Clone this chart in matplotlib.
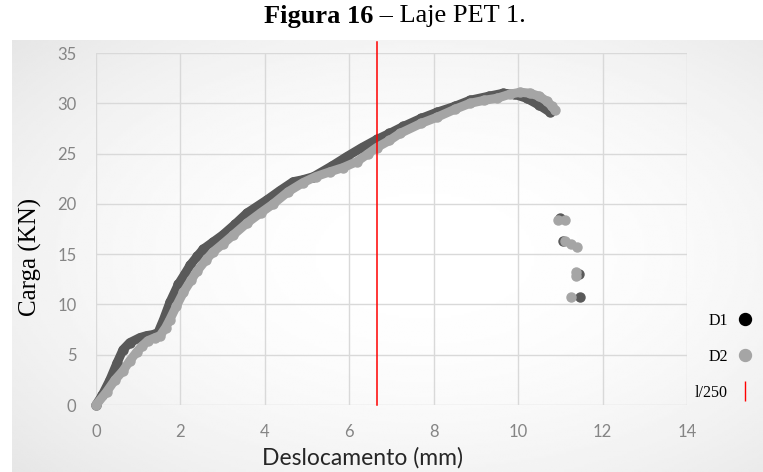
import numpy as np
import matplotlib
matplotlib.use("Agg")
import matplotlib.pyplot as plt
from matplotlib.lines import Line2D

# ---- data ----
d1_x = [0.0, 0.15, 0.33, 0.5, 0.64, 0.8, 1.04, 1.2, 1.35, 1.47, 1.6, 1.75, 1.95, 2.1, 2.23, 2.4, 2.54, 2.77, 3.0, 3.3, 3.58,
        4.05, 4.35, 4.67, 4.9, 5.15, 5.6, 5.94, 6.3, 6.65, 6.95, 7.28, 7.7, 8.07, 8.5, 8.86, 9.3, 9.65, 9.9, 10.2, 10.5, 10.76]
d1_y = [0.0, 1.0, 2.5, 4.2, 5.5, 6.2, 6.7, 6.9, 7.0, 7.2, 8.5, 10.2, 12.0, 13.0, 13.9, 14.8, 15.5, 16.2, 16.9, 18.0, 19.1,
        20.4, 21.3, 22.2, 22.4, 22.7, 23.8, 24.7, 25.6, 26.4, 27.0, 27.7, 28.5, 29.1, 29.7, 30.3, 30.7, 31.0, 30.9, 30.5, 29.8, 29.1]
d1_tail_x = [11.0, 11.07, 11.45, 11.47]
d1_tail_y = [18.6, 16.3, 13.0, 10.7]

d2_x = [0.0, 0.25, 0.45, 0.64, 0.8, 0.97, 1.1, 1.23, 1.4, 1.52, 1.65, 1.75, 1.9, 2.07, 2.25, 2.39, 2.6, 2.77, 3.0, 3.25,
        3.58, 3.9, 4.2, 4.55, 4.9, 5.2, 5.55, 5.85, 6.18, 6.45, 6.65, 6.95, 7.2, 7.7, 8.07, 8.5, 8.86, 9.2, 9.5, 9.8, 10.05,
        10.28, 10.5, 10.68, 10.8, 10.88]
d2_y = [0.0, 1.3, 2.5, 3.4, 4.4, 5.3, 5.9, 6.4, 6.7, 6.9, 7.7, 8.5, 9.8, 11.2, 12.4, 13.3, 14.4, 15.2, 16.0, 16.9,
        18.1, 19.1, 20.0, 21.2, 22.1, 22.7, 23.2, 23.6, 24.2, 25.0, 25.6, 26.3, 27.0, 28.0, 28.6, 29.4, 30.0, 30.3, 30.5, 30.9, 31.1,
        31.0, 30.7, 30.2, 29.7, 29.3]
d2_tail_x = [10.95, 11.1, 11.12, 11.25, 11.4, 11.37, 11.37, 11.26]
d2_tail_y = [18.4, 18.4, 16.3, 16.0, 15.7, 12.8, 13.2, 10.7]

l250 = 6.65
x_ticks = [0, 2, 4, 6, 8, 10, 12, 14]
y_ticks = [0, 5, 10, 15, 20, 25, 30, 35]
series_labels = ["D1", "D2", "l/250"]

c_d1 = "#595959"
c_d2 = "#A5A5A5"

W, H = 763, 472
fig = plt.figure(figsize=(W / 100, H / 100), dpi=100)
fig.patch.set_facecolor("white")

# background gradient of the chart area
bg = fig.add_axes([12 / W, 0, 1 - 12 / W, (H - 40) / H], zorder=-10)
yy, xx = np.mgrid[0:1:200j, 0:1:300j]
r = np.sqrt(((xx - 0.55) / 0.75) ** 2 + ((yy - 0.5) / 0.75) ** 2)
val = 1 - 0.10 * np.clip(r, 0, 1.2) ** 2
bg.imshow(val, cmap="gray", vmin=0, vmax=1, aspect="auto", extent=[0, 1, 0, 1], interpolation="bilinear")
bg.set_axis_off()

ax = fig.add_axes([96 / W, 1 - 405 / H, (687 - 96) / W, (405 - 53) / H])
ax.set_facecolor("none")
ax.set_xlim(0, 14)
ax.set_ylim(0, 35)
ax.set_xticks(x_ticks)
ax.set_yticks(y_ticks)
ax.grid(True, color="#d9d9d9", lw=1)
ax.set_axisbelow(True)
for s in ax.spines.values():
    s.set_visible(False)
ax.tick_params(length=0, labelsize=12, labelcolor="#858585", pad=14)
for lab in ax.get_xticklabels() + ax.get_yticklabels():
    lab.set_fontfamily("Lato")

ms = 6.5
ax.plot(d1_x, d1_y, color=c_d1, lw=ms, solid_capstyle="round", solid_joinstyle="round",
        marker="o", ms=ms, mec=c_d1, mfc=c_d1, zorder=3, clip_on=False)
ax.plot(d1_tail_x, d1_tail_y, ls="none", marker="o", ms=ms, mec=c_d1, mfc=c_d1, zorder=3)
ax.plot(d2_x, d2_y, color=c_d2, lw=ms, solid_capstyle="round", solid_joinstyle="round",
        marker="o", ms=ms, mec=c_d2, mfc=c_d2, zorder=4, clip_on=False)
ax.plot(d2_tail_x, d2_tail_y, ls="none", marker="o", ms=ms, mec=c_d2, mfc=c_d2, zorder=4)
ax.axvline(l250, ymin=0, ymax=1.03, color="#ff0000", lw=1.1, zorder=5, clip_on=False)

ax.set_xlabel("Deslocamento (mm)", fontsize=16.5, family="Lato", color="#262626")
ax.xaxis.set_label_coords((362 - 96) / (687 - 96), -(447 - 405) / (405 - 53))
ax.set_ylabel("Carga (KN)", fontsize=18, family="Liberation Serif", color="black")
ax.yaxis.set_label_coords(-(96 - 42) / (687 - 96), 0.5 - (257 - 229) / (405 - 53))

# title: "Figura 16" bold, rest regular, centred as a whole
tsize = 19
ty = 1 - 16 / H
t1 = fig.text(0, ty, "Figura 16", fontsize=tsize, family="Liberation Serif",
              weight="bold", va="center", ha="left")
t2 = fig.text(0, ty, " \u2013 Laje PET 1.", fontsize=tsize, family="Liberation Serif",
              va="center", ha="left")
fig.canvas.draw()
w1 = t1.get_window_extent().width
w2 = t2.get_window_extent().width
x0 = 395 - (w1 + w2) / 2
t1.set_x(x0 / W)
t2.set_x((x0 + w1) / W)

# legend
handles = [Line2D([], [], ls="none", marker="o", ms=8.6, color="black"),
           Line2D([], [], ls="none", marker="o", ms=8.6, color=c_d2),
           Line2D([], [], ls="none", marker="|", ms=15, mew=1, color="red")]
leg = fig.legend(handles, series_labels, loc="center", bbox_to_anchor=(724 / W, 1 - 357 / H),
                 markerfirst=False, frameon=False, prop={"family": "Liberation Serif", "size": 11.5},
                 labelspacing=1.25, handlelength=1.0, handletextpad=0.6, alignment="right")

fig.savefig("out.png", dpi=100)
